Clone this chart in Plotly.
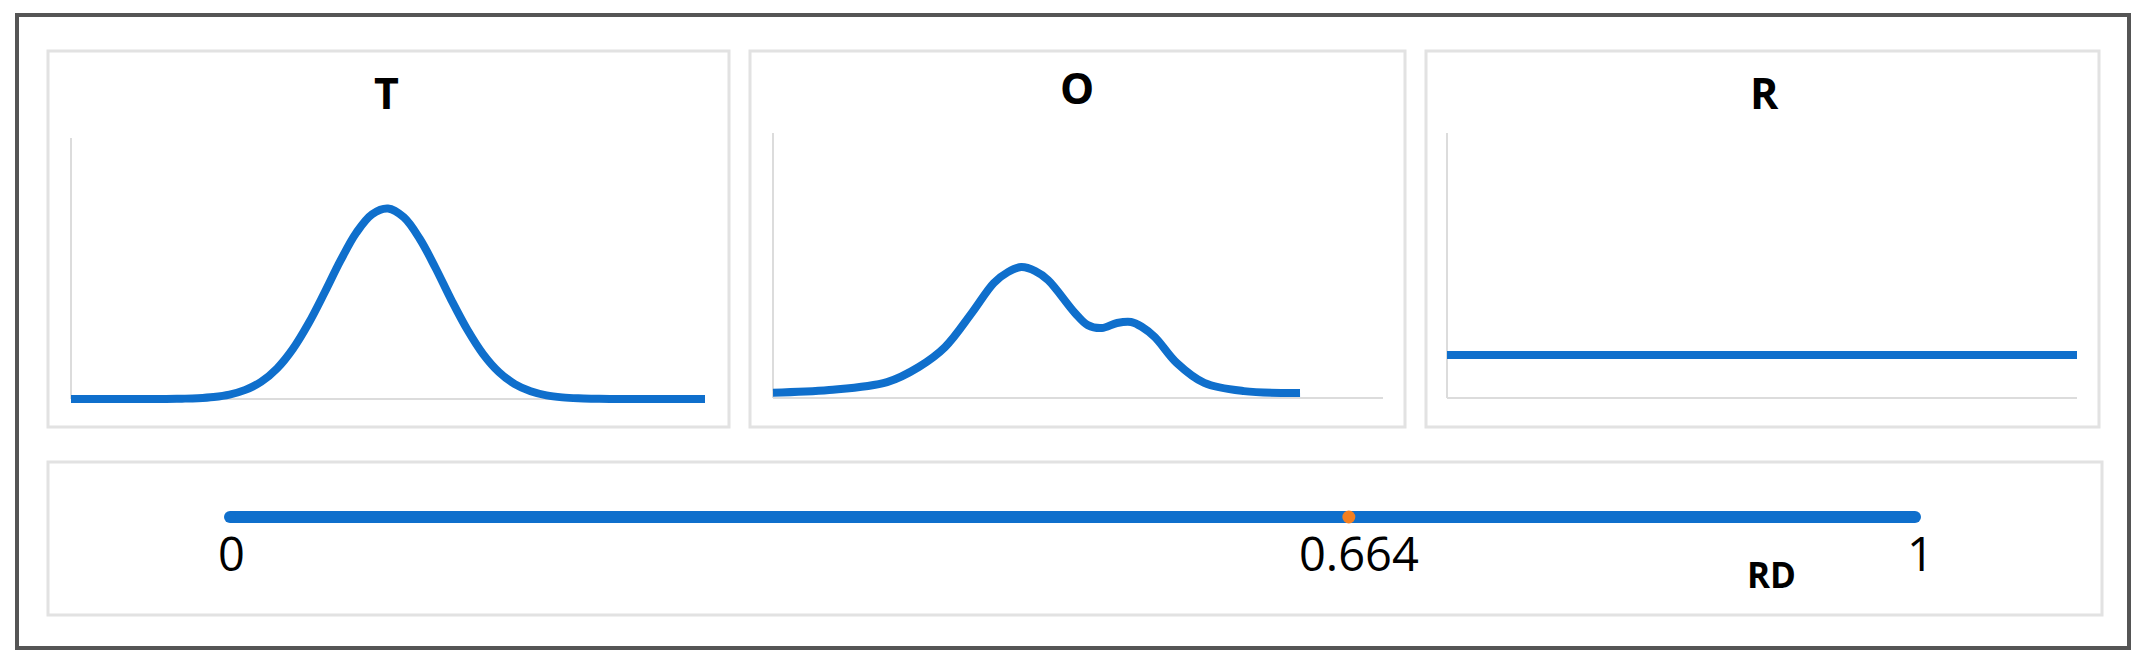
import plotly.graph_objects as go

W, H = 2145, 664

# ---------------- data ----------------
panel_titles = ["T", "O", "R"]

t_x = [0.0, 0.05, 0.10, 0.15, 0.175, 0.20, 0.225, 0.25, 0.275, 0.30, 0.325, 0.35, 0.375,
       0.40, 0.425, 0.45, 0.475, 0.50, 0.525, 0.55, 0.575, 0.60, 0.625, 0.65, 0.675,
       0.70, 0.725, 0.75, 0.775, 0.80, 0.825, 0.85, 0.90, 0.95, 1.0]
t_y = [0.0, 0.0, 0.0, 0.0003, 0.0012, 0.003, 0.0076, 0.017, 0.035, 0.066, 0.117, 0.192, 0.291,
       0.408, 0.530, 0.637, 0.708, 0.730, 0.696, 0.614, 0.502, 0.379, 0.266, 0.172, 0.103,
       0.057, 0.0295, 0.014, 0.0062, 0.0025, 0.001, 0.0003, 0.0, 0.0, 0.0]

o_x = [0.0, 0.092, 0.187, 0.239, 0.282, 0.326, 0.362, 0.385, 0.407, 0.430, 0.451, 0.495,
       0.516, 0.539, 0.564, 0.587, 0.605, 0.626, 0.662, 0.707, 0.772, 0.864]
o_y = [0.020, 0.030, 0.060, 0.117, 0.192, 0.321, 0.434, 0.475, 0.494, 0.479, 0.445, 0.321,
       0.275, 0.264, 0.283, 0.287, 0.268, 0.230, 0.132, 0.057, 0.026, 0.019]

r_x = [0.0, 1.0]
r_y = [0.162, 0.162]

rd_range = [0.0, 1.0]
rd_value = 0.664
rd_ticks = [0.0, 0.664, 1.0]
rd_ticktext = ["0", "0.664", "1"]
rd_label = "RD"

# ---------------- styles ----------------
BLUE = "#0F6FCC"
ORANGE = "#F47F20"
AXIS_GREY = "#DCDCDC"
PANEL_GREY = "#E2E2E2"
FONT = "Open Sans, Liberation Sans, Arial, sans-serif"


def xdom(p0, p1, r0, r1):
    f = lambda r: p0 + (p1 - p0) * r
    return [f(r0) / W, f(r1) / W]


def ydom(p0, p1, r0, r1):
    f = lambda r: p0 + (p1 - p0) * r
    return [1 - f(r0) / H, 1 - f(r1) / H]


XR = [-0.02, 1.02]
YR = [-0.05, 1.0]

panels = [
    dict(x0=71, x1=705, y0=399, y1=138),
    dict(x0=773, x1=1383, y0=398, y1=133),
    dict(x0=1447, x1=2077, y0=398, y1=133),
]

fig = go.Figure()

series = [(t_x, t_y), (o_x, o_y), (r_x, r_y)]
for i, ((xs, ys), p) in enumerate(zip(series, panels)):
    n = "" if i == 0 else str(i + 1)
    fig.add_trace(go.Scatter(
        x=xs, y=ys, mode="lines",
        line=dict(color=BLUE, width=8, shape="spline", smoothing=1.0),
        xaxis="x" + n, yaxis="y" + n, hoverinfo="skip",
    ))
    fig.update_layout(**{
        "xaxis" + n: dict(domain=xdom(p["x0"], p["x1"], *XR), range=XR, visible=False,
                          anchor="y" + n),
        "yaxis" + n: dict(domain=ydom(p["y0"], p["y1"], *YR), range=YR, visible=False,
                          anchor="x" + n),
    })
    fig.add_shape(type="line", xref="x" + n, yref="y" + n, x0=0, x1=1, y0=0, y1=0,
                  line=dict(color=AXIS_GREY, width=2), layer="below")
    fig.add_shape(type="line", xref="x" + n, yref="y" + n, x0=0, x1=0, y0=0, y1=1,
                  line=dict(color=AXIS_GREY, width=2), layer="below")

# slider (RD)
SX = [-0.02, 1.02]
SY = [-1, 1]
fig.update_layout(
    xaxis4=dict(domain=xdom(230, 1915, *SX), range=SX, visible=False, anchor="y4"),
    yaxis4=dict(domain=ydom(517, 497, *SY), range=SY, visible=False, anchor="x4"),
)
fig.add_trace(go.Scatter(
    x=rd_range, y=[0, 0], mode="lines+markers",
    line=dict(color=BLUE, width=12),
    marker=dict(color=BLUE, size=12),
    xaxis="x4", yaxis="y4", hoverinfo="skip",
))
fig.add_trace(go.Scatter(
    x=[rd_value], y=[0], mode="markers",
    marker=dict(color=ORANGE, size=13),
    xaxis="x4", yaxis="y4", hoverinfo="skip",
))

annotations = []
title_pos = [(386, 93), (1077, 88), (1764, 93)]
for t, (px, py) in zip(panel_titles, title_pos):
    annotations.append(dict(
        text="<b>%s</b>" % t, x=px / W, y=1 - py / H, xref="paper", yref="paper",
        xanchor="center", yanchor="middle", showarrow=False,
        font=dict(family=FONT, size=43, color="black"),
    ))
shifts = [1, 10, 5]
for v, txt, s in zip(rd_ticks, rd_ticktext, shifts):
    annotations.append(dict(
        text=txt, x=v, y=1 - 553 / H, xref="x4", yref="paper", xshift=s,
        xanchor="center", yanchor="middle", showarrow=False,
        font=dict(family=FONT, size=47, color="black"),
    ))
annotations.append(dict(
    text="<b>%s</b>" % rd_label, x=1771 / W, y=1 - 574 / H, xref="paper", yref="paper",
    xanchor="center", yanchor="middle", showarrow=False,
    font=dict(family=FONT, size=35, color="black"),
))

shapes = [
    dict(type="rect", xref="paper", yref="paper", x0=17 / W, x1=2129 / W,
         y0=1 - 648 / H, y1=1 - 15 / H, line=dict(color="#555555", width=4), layer="below"),
]
for (x0, y0, x1, y1) in [(48, 51, 729, 427), (750, 51, 1405, 427), (1426, 51, 2099, 427),
                         (48, 462, 2102, 615)]:
    shapes.append(dict(type="rect", xref="paper", yref="paper", x0=x0 / W, x1=x1 / W,
                       y0=1 - y1 / H, y1=1 - y0 / H,
                       line=dict(color=PANEL_GREY, width=3), layer="below"))

fig.update_layout(
    width=W, height=H, margin=dict(l=0, r=0, t=0, b=0),
    paper_bgcolor="white", plot_bgcolor="rgba(0,0,0,0)",
    showlegend=False, annotations=annotations,
)
for s in shapes:
    fig.add_shape(**s)

fig.write_html("out.html", config={"displayModeBar": False},
               post_script="document.body.style.margin='0';")
